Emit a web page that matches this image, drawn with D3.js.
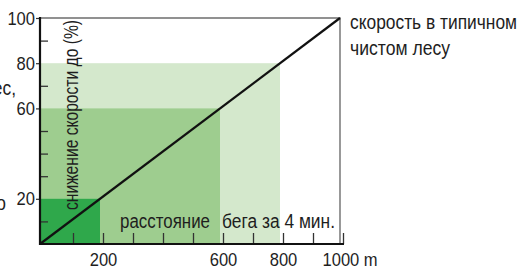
<!DOCTYPE html>
<html><head><meta charset="utf-8">
<script src="https://cdn.jsdelivr.net/npm/d3@7"></script>
<style>
html,body{margin:0;padding:0;background:#fff;overflow:hidden}
text{font-family:"Liberation Sans",Arial,sans-serif;fill:#1e1e1e}
</style>
</head><body>
<svg id="chart" width="520" height="269"></svg>
<script>
// ---- data ----
const distanceTicks = [100,200,300,400,500,600,700,800,900,1000];
const distanceLabels = [200,600,800,1000];
const speedMinorTicks = [10,30,40,50,70,90];
const speedLabels = [20,60,80,100];
const zoneDistances = [800,600,200];
const zoneSpeeds = [80,60,20];
const lineDistances = [0,1000];
const lineSpeeds = [0,100];
const yTitle = "снижение скорости до (%)";
const xTitleA = "расстояние";
const xTitleB = "бега за 4 мин.";
const lineNote = ["скорость в типичном","чистом лесу"];
const cutNotes = ["лес,","до"];

// ---- styles ----
const zoneColors = ["#d4e8cc","#9ecd8f","#2fa84b"];
const narrow = 0.87;

const svg = d3.select("#chart");
const x = d3.scaleLinear().domain([0,1000]).range([40,340]);
const y = d3.scaleLinear().domain([0,100]).range([244,18]);

function condense(sel, len){
  sel.each(function(){
    const L = len || this.getComputedTextLength()*narrow;
    this.setAttribute("textLength", L);
    this.setAttribute("lengthAdjust","spacingAndGlyphs");
  });
  return sel;
}

// zones
svg.append("g").selectAll("rect").data(zoneDistances).join("rect")
  .attr("x", x(0)).attr("y", (d,i)=>y(zoneSpeeds[i]))
  .attr("width", d=>x(d)-x(0)).attr("height", (d,i)=>y(0)-y(zoneSpeeds[i]))
  .attr("fill", (d,i)=>zoneColors[i]);

// frame top/right
svg.append("path").attr("d", `M${x(0)},${y(100)}H${x(1000)}V${y(0)}`)
  .attr("fill","none").attr("stroke","#6e6e6e").attr("stroke-width",1.4);

// x ticks (inward)
const xt = svg.append("g").attr("transform", `translate(3,${y(0)})`)
  .call(d3.axisBottom(x).tickValues(distanceTicks).tickSize(-11).tickFormat(""));
xt.select(".domain").remove();
xt.selectAll("line").attr("stroke","#333").attr("stroke-width",1.3);

// x labels
const xl = svg.append("g").attr("transform", `translate(3,${y(0)})`)
  .call(d3.axisBottom(x).tickValues(distanceLabels).tickSize(0).tickPadding(9)
    .tickFormat(d=> d===1000 ? d+" m" : d));
xl.select(".domain").remove();
xl.selectAll("text").style("font-size","19px").attr("fill","#1e1e1e");
xl.selectAll("text").filter(d=>d===1000).attr("text-anchor","start").attr("dx",-21);
condense(xl.selectAll("text"));

// y minor ticks (inward)
const yt = svg.append("g").attr("transform", `translate(${x(0)},0)`)
  .call(d3.axisLeft(y).tickValues(speedMinorTicks).tickSize(-8).tickFormat(""));
yt.select(".domain").remove();
yt.selectAll("line").attr("stroke","#333").attr("stroke-width",1.3);

// y labels with short outward ticks
const yl = svg.append("g").attr("transform", `translate(${x(0)},0)`)
  .call(d3.axisLeft(y).tickValues(speedLabels).tickSize(4).tickPadding(1));
yl.select(".domain").remove();
yl.selectAll("line").attr("stroke","#333").attr("stroke-width",1.2);
yl.selectAll("text").style("font-size","19px").attr("fill","#1e1e1e");
condense(yl.selectAll("text"));

// axes lines
svg.append("path").attr("d", `M${x(0)},${y(100)-1}V${y(0)}H${x(1000)+4}`)
  .attr("fill","none").attr("stroke","#111").attr("stroke-width",2.2);

// diagonal line
svg.append("path")
  .attr("d", d3.line().x(d=>x(d)).y((d,i)=>y(lineSpeeds[i]))(lineDistances))
  .attr("fill","none").attr("stroke","#111").attr("stroke-width",2.2);

// y title
svg.append("text").attr("transform","translate(78,210) rotate(-90)")
  .attr("textLength",190).attr("lengthAdjust","spacingAndGlyphs")
  .style("font-size","20px").text(yTitle);

// x title
svg.append("text").attr("x",120).attr("y",228).attr("textLength",90)
  .attr("lengthAdjust","spacingAndGlyphs").style("font-size","20px").text(xTitleA);
svg.append("text").attr("x",222).attr("y",228).attr("textLength",113)
  .attr("lengthAdjust","spacingAndGlyphs").style("font-size","20px").text(xTitleB);

// line note
svg.append("text").attr("x",350).attr("y",29).attr("textLength",167)
  .attr("lengthAdjust","spacingAndGlyphs").style("font-size","20px").text(lineNote[0]);
svg.append("text").attr("x",350).attr("y",55).attr("textLength",100)
  .attr("lengthAdjust","spacingAndGlyphs").style("font-size","20px").text(lineNote[1]);

// cut-off notes at left edge
condense(svg.append("text").attr("x",16).attr("y",95).attr("text-anchor","end")
  .style("font-size","20px").text(cutNotes[0]));
condense(svg.append("text").attr("x",6).attr("y",210).attr("text-anchor","end")
  .style("font-size","20px").text(cutNotes[1]));
</script>
</body></html>
